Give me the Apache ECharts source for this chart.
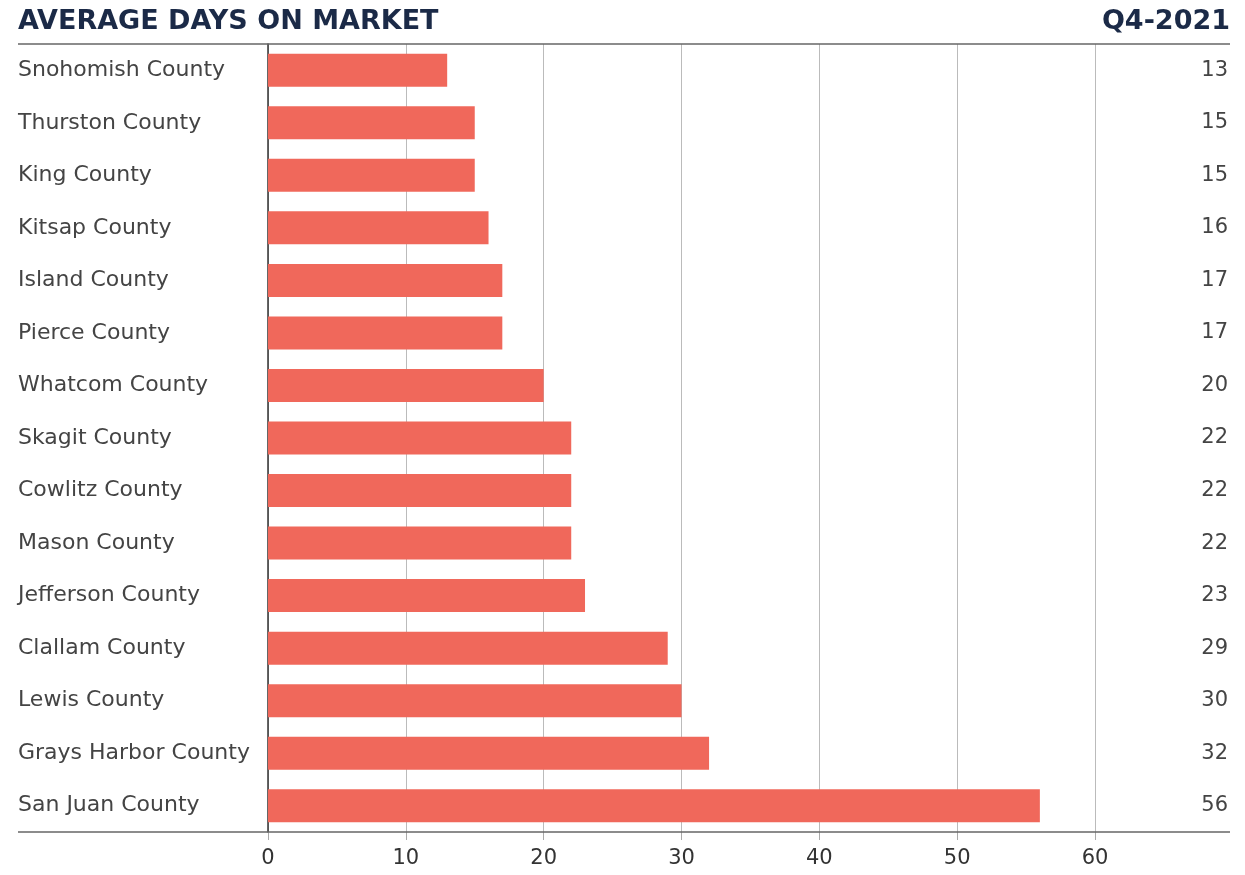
<!DOCTYPE html>
<html>
<head>
<meta charset="utf-8">
<script src="https://cdn.jsdelivr.net/npm/echarts@6/dist/echarts.min.js"></script>
<style>
html,body{margin:0;padding:0;background:#fff;}
#main{width:1245px;height:875px;}
</style>
</head>
<body>
<div id="main"></div>
<script>
// counties, top to bottom
var counties = ['Snohomish County','Thurston County','King County','Kitsap County','Island County',
  'Pierce County','Whatcom County','Skagit County','Cowlitz County','Mason County',
  'Jefferson County','Clallam County','Lewis County','Grays Harbor County','San Juan County'];
// average days on market
var days = [13,15,15,16,17,17,20,22,22,22,23,29,30,32,56];
var xTicks = [0,10,20,30,40,50,60];

var font = '"DejaVu Sans"';
var chart = echarts.init(document.getElementById('main'));

var option = {
  backgroundColor: '#fff',
  animation: false,
  grid: { left: 268, right: 150, top: 44, bottom: 43 },
  graphic: [
    { type: 'text', left: 18, top: 8,
      style: { text: 'AVERAGE DAYS ON MARKET', font: 'bold 27px ' + font, fill: '#1b2a47' } },
    { type: 'text', right: 15, top: 8,
      style: { text: 'Q4-2021', font: 'bold 27px ' + font, fill: '#1b2a47' } },
    { type: 'line', shape: { x1: 18, y1: 44, x2: 1230, y2: 44 },
      style: { stroke: '#666', lineWidth: 1.5 }, z: 10 },
    { type: 'line', shape: { x1: 18, y1: 832, x2: 1230, y2: 832 },
      style: { stroke: '#666', lineWidth: 1.5 }, z: 10 }
  ],
  xAxis: {
    type: 'value', min: 0, max: 60, interval: 10,
    axisLine: { show: false },
    axisTick: { show: true, length: 8, lineStyle: { color: '#aaa' } },
    splitLine: { show: true, lineStyle: { color: '#bbb', width: 1 } },
    axisLabel: {
      margin: 16, color: '#333', fontSize: 21, fontFamily: font,
      formatter: function (v) { return xTicks.indexOf(v) >= 0 ? String(v) : ''; }
    }
  },
  yAxis: [
    {
      type: 'category', data: counties, inverse: true,
      axisLine: { show: true, lineStyle: { color: '#333', width: 1.5 } },
      axisTick: { show: false },
      axisLabel: { align: 'left', margin: 250, color: '#444', fontSize: 22, fontFamily: font,
        padding: [6, 0, 0, 0] }
    },
    {
      type: 'category', data: days, inverse: true, position: 'right',
      axisLine: { show: false }, axisTick: { show: false },
      axisLabel: { align: 'right', margin: 133, color: '#444', fontSize: 21, fontFamily: font,
        padding: [6, 0, 0, 0] }
    }
  ],
  series: [{
    type: 'bar', data: days, barWidth: 33,
    itemStyle: { color: '#f0685b' }
  }]
};
chart.setOption(option);
</script>
</body>
</html>
